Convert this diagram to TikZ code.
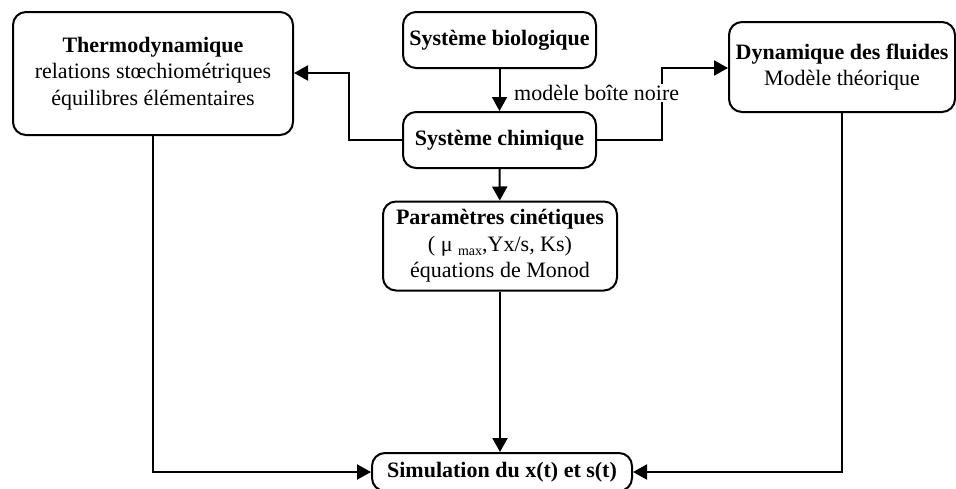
\documentclass[tikz,border=0pt]{standalone}
\usepackage{fontspec}
\setmainfont{Liberation Serif}
\usetikzlibrary{arrows.meta}
\begin{document}
\begin{tikzpicture}[x=1pt,y=-1pt,
  box/.style={draw,line width=2pt,rounded corners=13pt,align=center,inner sep=1pt,
    font=\fontsize{22}{26.5}\selectfont},
  conn/.style={line width=2pt,-{Triangle[length=14pt,width=15pt]}}]
\useasboundingbox (0,0) rectangle (956,488);
\node[box,minimum width=280pt,minimum height=123pt] (thermo) at (153,73.5)
  {\textbf{Thermodynamique}\\relations stœchiométriques\\équilibres élémentaires};
\node[box,minimum width=193pt,minimum height=56pt] (bio) at (499.5,40) {\textbf{Système biologique}};
\node[box,minimum width=193pt,minimum height=56pt] (chim) at (499.5,140) {\textbf{Système chimique}};
\node[box,minimum width=226pt,minimum height=90pt] (dyn) at (842,67)
  {\textbf{Dynamique des fluides}\\Modèle théorique};
\node[box,minimum width=234pt,minimum height=89pt] (param) at (500,246)
  {\textbf{Paramètres cinétiques}\\( μ \raisebox{-4pt}{\fontsize{14}{14}\selectfont max},Yx/s, Ks)\\équations de Monod};
\node[box,minimum width=260pt,minimum height=38pt] (sim) at (502,472) {\textbf{Simulation du x(t) et s(t)}};
\coordinate (tl) at (349,73);
\coordinate (dl) at (662,68);
\draw[conn] (bio) -- (chim);
\draw[conn] (chim.west) -| (tl) -- (thermo.east |- tl);
\draw[conn] (chim.east) -| (dl) -- (dyn.west |- dl);
\node[fill=white,inner sep=1pt,font=\fontsize{22}{26}\selectfont,anchor=west] (lbl) at (513,93) {modèle boîte noire};
\draw[conn] (chim) -- (param);
\draw[conn] (param.south) -- (param.south |- sim.north);
\draw[conn] (thermo.south) |- (sim.west);
\draw[conn] (dyn.south) |- (sim.east);
\end{tikzpicture}
\end{document}
